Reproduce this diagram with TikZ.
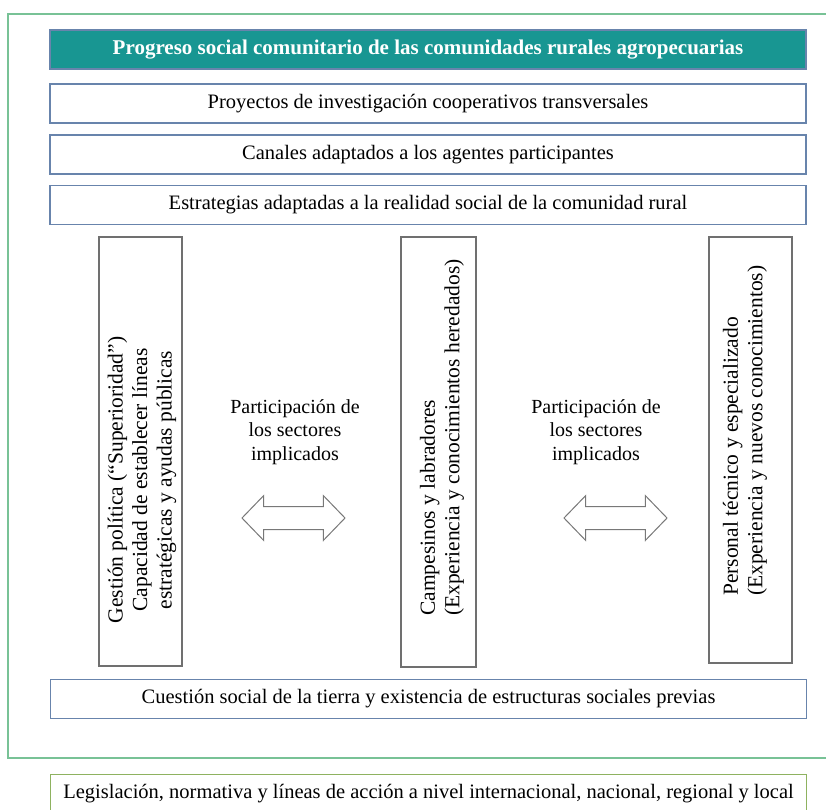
\documentclass[tikz,border=0pt]{standalone}
\usepackage{fontspec}
\setmainfont{Liberation Serif}
\usetikzlibrary{shapes.arrows}
\definecolor{frameg}{RGB}{120,194,150}
\definecolor{tealf}{RGB}{24,150,146}
\definecolor{boxb}{RGB}{104,132,172}
\definecolor{vbox}{RGB}{112,112,112}
\definecolor{legb}{RGB}{142,178,96}
\definecolor{arrg}{RGB}{120,120,120}
\tikzset{
  hbox/.style={draw=boxb, line width=1.4pt, fill=white, minimum width=756, minimum height=39, inner sep=0pt,
     font=\fontsize{20.5}{24}\selectfont},
  titlebox/.style={hbox, fill=tealf, text=white, font=\fontsize{21}{24}\selectfont\bfseries},
  vertbox/.style={draw=vbox, line width=1.1pt, fill=white, inner sep=0pt},
  vtext/.style={rotate=90, inner sep=0pt, font=\fontsize{21.5}{24.5}\selectfont},
  lbl/.style={align=center, inner sep=0pt, font=\fontsize{20}{23.5}\selectfont},
  darr/.style={double arrow, draw=arrg, line width=1pt, fill=white, inner sep=11pt,
     minimum height=103, double arrow head extend=11, double arrow tip angle=92}
}
\begin{document}
\begin{tikzpicture}[x=1pt,y=-1pt]
\useasboundingbox (0,0) rectangle (826,809);
\clip (0,0) rectangle (826,809);
\node[draw=frameg, line width=1.4pt, minimum width=826, minimum height=744, inner sep=0pt] (frame) at (421,386) {};
\node[titlebox] (title) at (428,49.5) {Progreso social comunitario de las comunidades rurales agropecuarias};
\node[hbox] (proy) at (428,103.5) {Proyectos de investigación cooperativos transversales};
\node[hbox] (can) at (428,154.5) {Canales adaptados a los agentes participantes};
\node[hbox] (est) at (428,205) {Estrategias adaptadas a la realidad social de la comunidad rural};
\node[vertbox, minimum width=83, minimum height=429] (gest) at (140.5,451.5) {};
\node[vertbox, minimum width=75, minimum height=430] (camp) at (438.5,452) {};
\node[vertbox, minimum width=83, minimum height=426] (pers) at (750.5,450) {};
\node[vtext, align=center] (gestt) at (142,480) {Gestión política (“Superioridad”)\\Capacidad de establecer líneas\\estratégicas y ayudas públicas};
\node[vtext, align=left, anchor=west] (campt) at (442,616) {Campesinos y labradores\\(Experiencia y conocimientos heredados)};
\node[vtext, align=left, anchor=west] (perst) at (745,596) {Personal técnico y especializado\\(Experiencia y nuevos conocimientos)};
\node[lbl] (l1) at (295,432) {Participación de\\los sectores\\implicados};
\node[lbl] (l2) at (596,432) {Participación de\\los sectores\\implicados};
\node[darr] (a1) at (293.5,518) {};
\node[darr] (a2) at (615.5,518) {};
\node[hbox] (cues) at (428.5,699) {Cuestión social de la tierra y existencia de estructuras sociales previas};
\node[hbox, draw=legb] (leg) at (428.5,794) {Legislación, normativa y líneas de acción a nivel internacional, nacional, regional y local};
\end{tikzpicture}
\end{document}
